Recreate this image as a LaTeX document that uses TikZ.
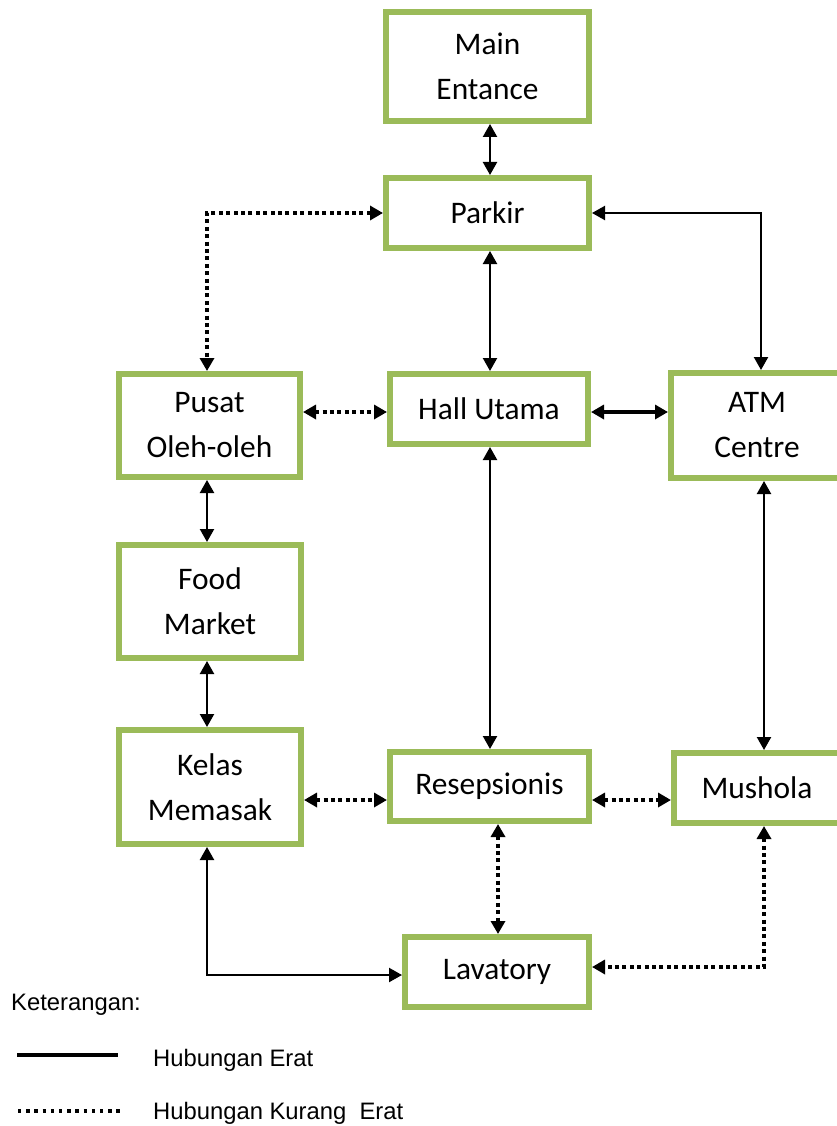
\documentclass[tikz,border=0pt]{standalone}
\usepackage{fontspec}
\setmainfont{Carlito}
\newfontfamily\legendfont{Liberation Sans}
\usetikzlibrary{arrows.meta}
\definecolor{boxgreen}{HTML}{9BBB59}
\begin{document}
\begin{tikzpicture}[x=1pt,y=-1pt,
  room/.style={draw=boxgreen, line width=6pt, fill=white, inner sep=0pt,
    align=center, font=\fontsize{31.4}{45}\selectfont},
  tips/.style={{Triangle[length=13pt,width=14pt]}-{Triangle[length=13pt,width=14pt]}},
  close/.style={tips, line width=2.2pt},
  closethick/.style={tips, line width=4pt},
  loose/.style={tips, line width=4pt, dash pattern=on 4pt off 3.4pt},
  legendtext/.style={anchor=base west, inner sep=0pt,
    font=\legendfont\fontsize{23.8}{28}\selectfont}
]
\useasboundingbox (0,0) rectangle (836,1126);

% rooms
\node[room, minimum width=203pt, minimum height=109pt] (main)    at (487.5,66.5) {Main\\Entance};
\node[room, minimum width=203pt, minimum height=70pt]  (parkir)  at (487.5,213)  {Parkir};
\node[room, minimum width=181pt, minimum height=103pt] (pusat)   at (209.5,425.5) {Pusat\\Oleh-oleh};
\node[room, minimum width=198pt, minimum height=70pt]  (hall)    at (489,409)    {Hall Utama};
\node[room, minimum width=172pt, minimum height=105pt] (atm)     at (757,425.5)  {ATM\\Centre};
\node[room, minimum width=182pt, minimum height=113pt] (food)    at (210,601.5)  {Food\\Market};
\node[room, minimum width=182pt, minimum height=114pt] (kelas)   at (210,787)    {Kelas\\Memasak};
\node[room, minimum width=199pt, minimum height=69pt]  (resep)   at (489.5,786.5) {Resepsionis};
\node[room, minimum width=184pt, minimum height=70pt]  (lav)     at (497,972)    {Lavatory};
\node[room, minimum width=166pt, minimum height=70pt]  (mushola) at (757,788)    {Mushola};

% guide columns and rows for the connectors
\coordinate (lx) at (207,0);
\coordinate (cx) at (490,0);
\coordinate (dx) at (498,0);
\coordinate (rx) at (761,0);
\coordinate (sx) at (764,0);
\coordinate (r1) at (0,412);
\coordinate (r2) at (0,800);
\coordinate (r3) at (0,975);
\coordinate (r4) at (0,967);

% close relations
\draw[close] (main.south -| cx) -- (parkir.north -| cx);
\draw[close] (parkir.south -| cx) -- (hall.north -| cx);
\draw[close] (hall.south -| cx) -- (resep.north -| cx);
\draw[close] (parkir.east) -| (atm.north -| rx);
\draw[closethick] (hall.east |- r1) -- (atm.west |- r1);
\draw[close] (pusat.south -| lx) -- (food.north -| lx);
\draw[close] (food.south -| lx) -- (kelas.north -| lx);
\draw[close] (atm.south -| sx) -- (mushola.north -| sx);
\draw[close] (kelas.south -| lx) |- (lav.west |- r3);

% loose relations
\draw[loose] (parkir.west) -| (pusat.north -| lx);
\draw[loose] (pusat.east |- r1) -- (hall.west |- r1);
\draw[loose] (kelas.east |- r2) -- (resep.west |- r2);
\draw[loose] (resep.east |- r2) -- (mushola.west |- r2);
\draw[loose] (resep.south -| dx) -- (lav.north -| dx);
\draw[loose] (mushola.south -| sx) |- (lav.east |- r4);

% legend
\node[legendtext] (ket) at (11,1010) {Keterangan:};
\draw[line width=4pt] (17,1055) -- (118,1055);
\node[legendtext] (erat) at (153,1066) {Hubungan Erat};
\draw[line width=3.3pt, dash pattern=on 3.3pt off 4.9pt] (18,1111) -- (120,1111);
\node[legendtext] (kurang) at (153,1119) {Hubungan Kurang\ \ Erat};
\end{tikzpicture}
\end{document}
